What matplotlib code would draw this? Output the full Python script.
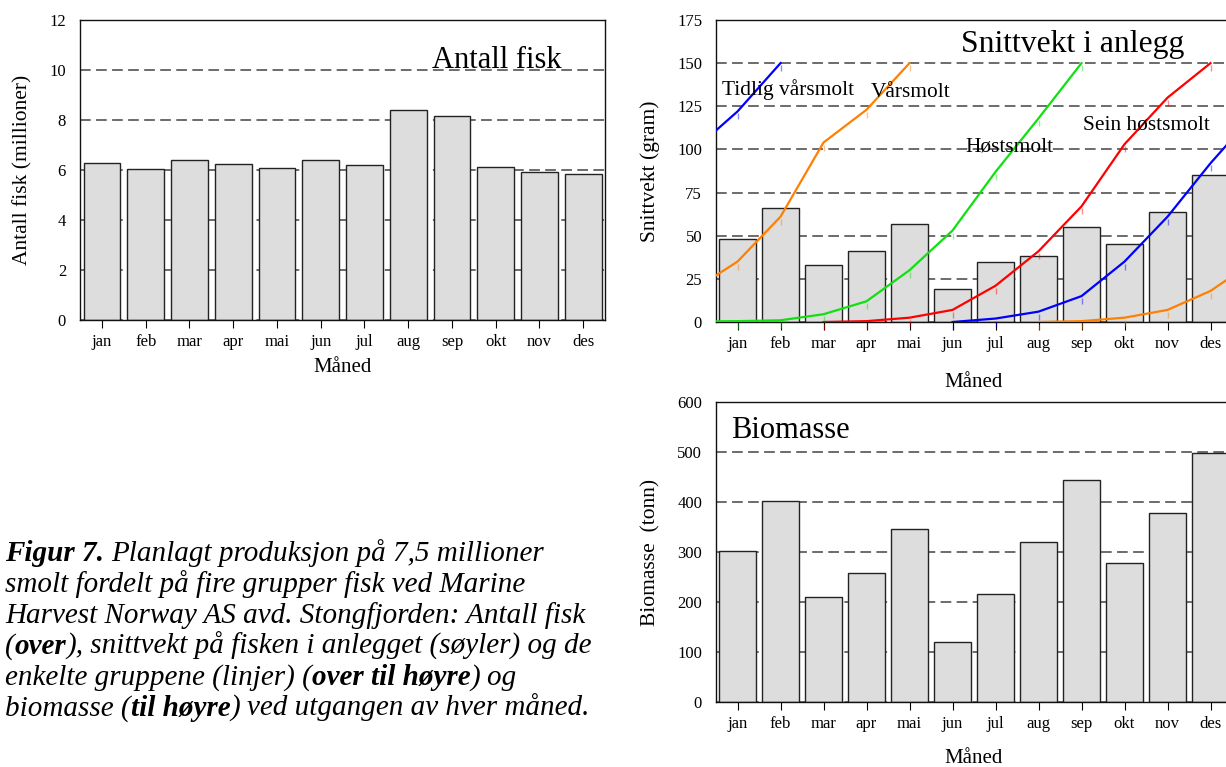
import numpy as np
import matplotlib
matplotlib.use("Agg")
import matplotlib.pyplot as plt
from matplotlib import transforms

plt.rcParams['font.family'] = ['Liberation Serif', 'DejaVu Serif']

# data
maaneder = ['jan', 'feb', 'mar', 'apr', 'mai', 'jun', 'jul', 'aug', 'sep', 'okt', 'nov', 'des']
antall_fisk = [6.27, 6.04, 6.42, 6.23, 6.07, 6.42, 6.22, 8.40, 8.16, 6.14, 5.92, 5.85]
snittvekt = [48, 66, 33, 41, 57, 19, 35, 38, 55, 45, 64, 85]
biomasse = [302, 402, 210, 258, 347, 120, 217, 321, 445, 278, 378, 498]

# group curves: (first month index, values); -1 = des året før, 12 = jan året etter
tidlig_vaar_a = (-1, [100, 122, 150])
vaar_a = (-1, [19, 35, 61, 104, 123, 150])
host = (-1, [0.3, 0.5, 1, 4.5, 12, 30, 53, 87, 118, 150])
sein_host = (2, [0, 0.5, 2.5, 7, 21, 41, 67, 103, 130, 150])
tidlig_vaar_b = (5, [0, 2, 6, 15, 35, 61, 92, 120])
vaar_b = (7, [0, 0.5, 2.5, 7, 18, 35])

kurver = [(tidlig_vaar_a, '#0000ff'), (vaar_a, '#ff8000'), (host, '#10e010'),
          (sein_host, '#ff0000'), (tidlig_vaar_b, '#0000ff'), (vaar_b, '#ff8000')]

W, H = 1226, 767
fig = plt.figure(figsize=(W / 100, H / 100), dpi=100)

x = np.arange(len(maaneder))


def style_axes(ax, yticks, ylabel, labelpad_x):
    ax.set_xlim(-0.5, 11.5)
    ax.set_ylim(yticks[0], yticks[-1])
    ax.set_yticks(yticks)
    ax.set_xticks(x)
    ax.set_xticklabels(maaneder)
    ax.tick_params(axis='x', direction='out', length=6, width=0.8, labelsize=12, pad=4)
    ax.tick_params(axis='y', length=0, labelsize=12, pad=10)
    ax.set_axisbelow(True)
    ax.yaxis.grid(True, color='#444444', linestyle=(0, (7, 3.5)), linewidth=1.1)
    for s in ax.spines.values():
        s.set_linewidth(1.0)
        s.set_color('#111111')
    ax.set_xlabel('Måned', fontsize=15, labelpad=labelpad_x)
    ax.set_ylabel(ylabel, fontsize=15.5, labelpad=12)


bar_kw = dict(width=0.84, color='#dddddd', edgecolor='#222222', linewidth=1.0, zorder=2)

# Antall fisk
ax1 = fig.add_axes([80 / W, 1 - 320 / H, 525 / W, 300 / H])
ax1.bar(x, antall_fisk, **bar_kw)
style_axes(ax1, np.arange(0, 13, 2), 'Antall fisk (millioner)', 6)
ax1.text(10.52, 10.38, 'Antall fisk', fontsize=22, ha='right', va='center')

# Snittvekt i anlegg
ax2 = fig.add_axes([716 / W, 1 - 322 / H, 516 / W, 302 / H])
ax2.bar(x, snittvekt, **bar_kw)
style_axes(ax2, np.arange(0, 176, 25), 'Snittvekt (gram)', 15)
mark_tr = transforms.offset_copy(ax2.transData, fig=fig, y=-5, units='dots')
for (start, vals), col in kurver:
    xs = np.arange(start, start + len(vals))
    ax2.plot(xs, vals, color=col, linewidth=1.6, zorder=3)
    inside = (xs >= 0) & (xs <= 11)
    ax2.plot(xs[inside], np.array(vals)[inside], linestyle='none', marker='|',
             markersize=4, color=col, alpha=0.45, transform=mark_tr, clip_on=False, zorder=3)
ax2.text(5.2, 161, 'Snittvekt i anlegg', fontsize=22.8, ha='left', va='center')
ax2.text(-0.37, 134.5, 'Tidlig vårsmolt', fontsize=15.4, ha='left', va='center', zorder=4)
ax2.text(3.1, 133, 'Vårsmolt', fontsize=15.4, ha='left', va='center', zorder=4)
ax2.text(5.3, 101.5, 'Høstsmolt', fontsize=15.4, ha='left', va='center', zorder=4)
ax2.text(8.04, 114, 'Sein høstsmolt', fontsize=15.4, ha='left', va='center', zorder=4)

# Biomasse
ax3 = fig.add_axes([716 / W, 1 - 702 / H, 516 / W, 300 / H])
ax3.bar(x, biomasse, **bar_kw)
style_axes(ax3, np.arange(0, 601, 100), 'Biomasse  (tonn)', 12)
ax3.text(-0.16, 543, 'Biomasse', fontsize=22, ha='left', va='center')

# figure caption with mixed bold/italic
caption = [
    [('Figur 7.', True), (' Planlagt produksjon på 7,5 millioner', False)],
    [('smolt fordelt på fire grupper fisk ved Marine', False)],
    [('Harvest Norway AS avd. Stongfjorden: Antall fisk', False)],
    [('(', False), ('over', True), ('), snittvekt på fisken i anlegget (søyler) og de', False)],
    [('enkelte gruppene (linjer) (', False), ('over til høyre', True), (') og', False)],
    [('biomasse (', False), ('til høyre', True), (') ved utgangen av hver måned.', False)],
]
cap_size = 21
renderer = fig.canvas.get_renderer()


def text_width(s, bold):
    t = fig.text(0, 0, s, fontsize=cap_size, style='italic',
                 weight='bold' if bold else 'normal')
    w = t.get_window_extent(renderer).width
    t.remove()
    return w


space_w = text_width('n n', False) - text_width('nn', False)

baseline0 = 561
line_step = 31
for i, line in enumerate(caption):
    xpix = 5
    ypix = baseline0 + i * line_step
    for s, bold in line:
        if s.startswith(' '):
            xpix += space_w
            s = s.lstrip(' ')
        t = fig.text(xpix / W, 1 - ypix / H, s, fontsize=cap_size, style='italic',
                     weight='bold' if bold else 'normal', ha='left', va='baseline')
        xpix += t.get_window_extent(renderer).width

fig.savefig('out.png', dpi=100)
